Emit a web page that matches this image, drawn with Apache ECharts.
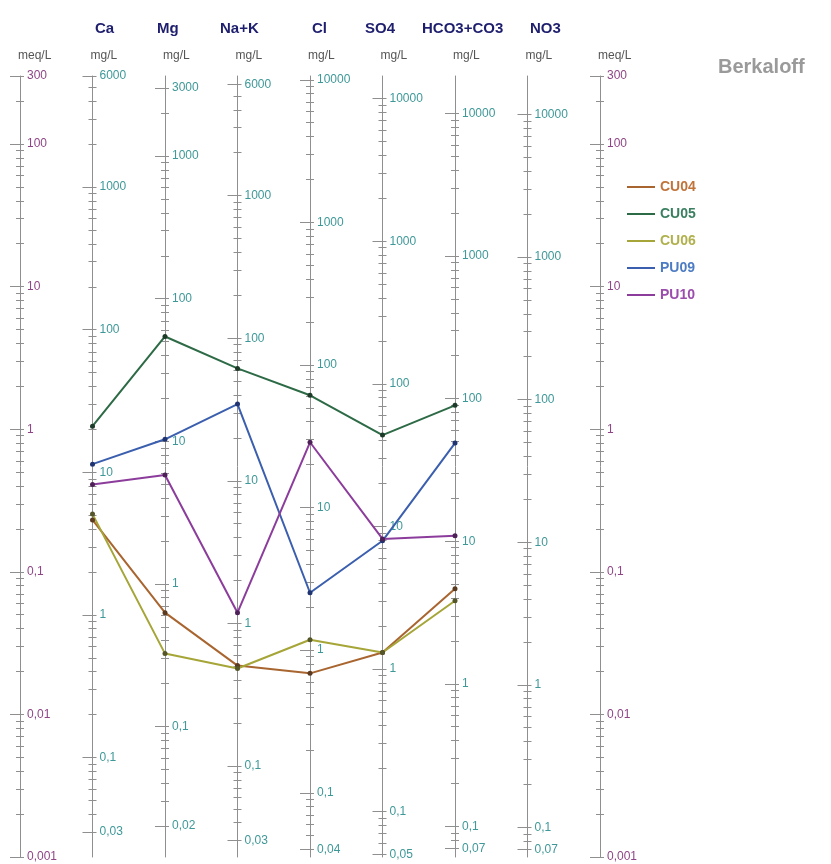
<!DOCTYPE html>
<html lang="en">
<head>
<meta charset="UTF-8">
<title>Berkaloff</title>
<script src="https://cdn.jsdelivr.net/npm/echarts@6/dist/echarts.min.js"></script>
<style>
    html, body { margin: 0; background: #fff; }
    #main { width: 831px; height: 864px; }
</style>
</head>
<body>
<div id="main"></div>
<script>
// vertical scales, left to right (meq/L scale on both outer sides)
var ions = ['Ca', 'Mg', 'Na+K', 'Cl', 'SO4', 'HCO3+CO3', 'NO3'];
var eqWeights = [20.04, 12.15, 23.0, 35.45, 48.03, 61.02, 62.0];
var ionTopLabels = [6000, 3000, 6000, 10000, 10000, 10000, 10000];
var ionBottomLabels = [0.03, 0.02, 0.03, 0.04, 0.05, 0.07, 0.07];
var meqLabels = [300, 100, 10, 1, 0.1, 0.01, 0.001];
var meqMin = 0.001, meqMax = 300;

// samples, values in meq/L in the order of ions (NO3 not measured)
var samples = ['CU04', 'CU05', 'CU06', 'PU09', 'PU10'];
var cu04 = [0.231, 0.0517, 0.022, 0.0194, 0.0272, 0.076, null];
var cu05 = [1.05, 4.47, 2.67, 1.73, 0.91, 1.47, null];
var cu06 = [0.254, 0.0267, 0.021, 0.0334, 0.0272, 0.0627, null];
var pu09 = [0.569, 0.85, 1.50, 0.0713, 0.165, 0.80, null];
var pu10 = [0.41, 0.477, 0.0517, 0.81, 0.170, 0.179, null];
var sampleValues = [cu04, cu05, cu06, pu09, pu10];

var lineColors = ['#a8652f', '#2d6a46', '#a5a538', '#3b5fae', '#8c3d9c'];
var dotColors = ['#5a3a20', '#1d3a28', '#55552a', '#1f3470', '#4e2058'];
var legendColors = ['#c0743a', '#3a7f5f', '#b0b04c', '#4d7cc4', '#9b4cad'];

var FONT = 'Liberation Sans, Arial, sans-serif';
var GRID_LEFT = 20, STEP = 72.5;

function lg(v) { return Math.log(v) / Math.LN10; }

function fmt(v) {
    var x = Number(Math.pow(10, v).toPrecision(4));
    return String(x).replace('.', ',');
}

function minorTicks(lo, hi) {
    var out = [];
    for (var n = Math.floor(lg(lo)); n <= Math.ceil(lg(hi)); n++) {
        for (var k = 1; k < 10; k++) {
            var v = k * Math.pow(10, n);
            if (v >= lo * 0.9999 && v <= hi * 1.0001) out.push(lg(v));
        }
    }
    return out;
}

function ionLabels(i, lo, hi) {
    var out = [ionTopLabels[i]];
    for (var n = 4; n >= -2; n--) {
        var v = Math.pow(10, n);
        if (v < ionTopLabels[i] && v > ionBottomLabels[i] && v >= lo && v <= hi) out.push(v);
    }
    out.push(ionBottomLabels[i]);
    return out;
}

// the 9 scales
var scales = [{w: 1, labels: meqLabels, color: '#8e4585'}];
ions.forEach(function (ion, i) {
    var w = eqWeights[i];
    scales.push({w: w, labels: ionLabels(i, meqMin * w, meqMax * w), color: '#3f9898'});
});
scales.push({w: 1, labels: meqLabels, color: '#8e4585'});

var yAxes = [];
// main visible axes first (index 0 = meq/L used by the data)
scales.forEach(function (s, p) {
    var lo = meqMin * s.w, hi = meqMax * s.w;
    yAxes.push({
        type: 'value', position: 'left', offset: -p * STEP,
        min: lg(lo), max: lg(hi),
        splitLine: {show: false},
        axisLine: {show: true, lineStyle: {color: '#8f8f8f', width: 1}},
        axisTick: {show: true, inside: true, length: 4, customValues: minorTicks(lo, hi),
            lineStyle: {color: '#8f8f8f'}},
        axisLabel: {show: true, inside: true, margin: 7, customValues: s.labels.map(lg),
            formatter: fmt, color: s.color, fontSize: 12, fontFamily: FONT}
    });
});
// outer side of the ticks
scales.forEach(function (s, p) {
    var lo = meqMin * s.w, hi = meqMax * s.w;
    yAxes.push({
        type: 'value', position: 'left', offset: -p * STEP,
        min: lg(lo), max: lg(hi),
        splitLine: {show: false}, axisLine: {show: false}, axisLabel: {show: false},
        axisTick: {show: true, inside: false, length: 4, customValues: minorTicks(lo, hi),
            lineStyle: {color: '#8f8f8f'}}
    });
    yAxes.push({
        type: 'value', position: 'left', offset: -p * STEP,
        min: lg(lo), max: lg(hi),
        splitLine: {show: false}, axisLine: {show: false}, axisLabel: {show: false},
        axisTick: {show: true, inside: false, length: 10, customValues: s.labels.map(lg),
            lineStyle: {color: '#8f8f8f'}}
    });
});

var series = samples.map(function (name, i) {
    var pts = [];
    sampleValues[i].forEach(function (v, j) {
        if (v != null) pts.push([j + 1, lg(v)]);
    });
    return {
        name: name, type: 'line', xAxisIndex: 0, yAxisIndex: 0,
        data: pts, symbol: 'circle', symbolSize: 5, z: 5,
        lineStyle: {color: lineColors[i], width: 2},
        itemStyle: {color: dotColors[i]},
        emphasis: {disabled: true}
    };
});

// header texts
var nameLeft = [95, 157, 220, 312, 365, 422, 530];
var graphics = [];
ions.forEach(function (ion, i) {
    graphics.push({type: 'text', left: nameLeft[i], top: 21,
        style: {text: ion, fill: '#1e1e6e', font: 'bold 15px ' + FONT}});
});
scales.forEach(function (s, p) {
    graphics.push({type: 'text', left: GRID_LEFT + p * STEP - 2, top: 50,
        style: {text: s.w === 1 ? 'meq/L' : 'mg/L', fill: '#555', font: '12px ' + FONT}});
});
graphics.push({type: 'text', left: 718, top: 57,
    style: {text: 'Berkaloff', fill: '#9a9a9a', font: 'bold 20px ' + FONT}});

var chart = echarts.init(document.getElementById('main'));
chart.setOption({
    backgroundColor: '#fff',
    animation: false,
    grid: {left: GRID_LEFT, right: 831 - (GRID_LEFT + 8 * STEP), top: 76, bottom: 7,
        containLabel: false, outerBoundsMode: 'none'},
    xAxis: {type: 'value', min: 0, max: 8, show: false},
    yAxis: yAxes,
    legend: {
        orient: 'vertical', left: 627, top: 180, padding: 0, icon: 'rect',
        itemWidth: 28, itemHeight: 2, itemGap: 13, selectedMode: false,
        textStyle: {fontSize: 14, fontWeight: 'bold', fontFamily: FONT},
        data: samples.map(function (n, i) {
            return {name: n, itemStyle: {color: lineColors[i]}, textStyle: {color: legendColors[i]}};
        })
    },
    graphic: graphics,
    series: series
});
</script>
</body>
</html>
